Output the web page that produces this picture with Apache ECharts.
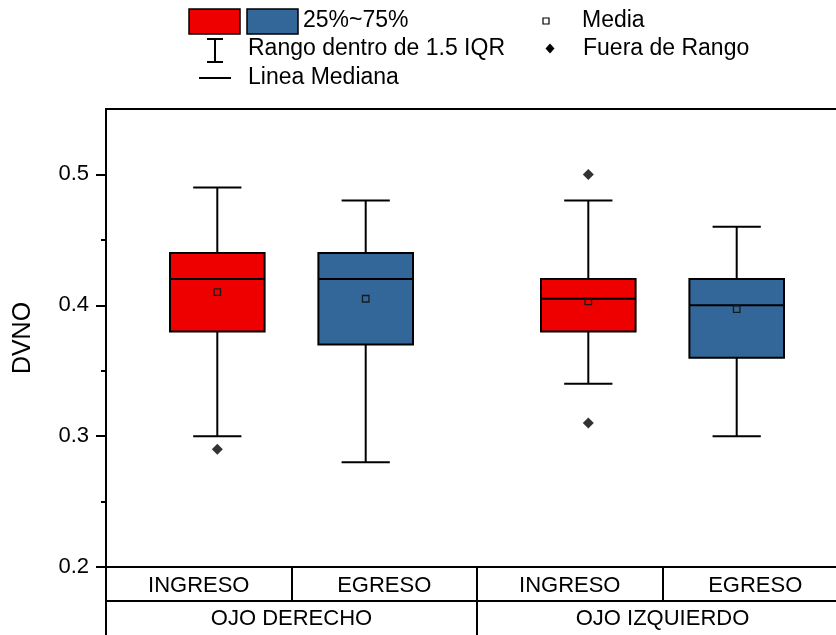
<!DOCTYPE html>
<html>
<head>
<meta charset="utf-8">
<script src="https://cdn.jsdelivr.net/npm/echarts@6/dist/echarts.min.js"></script>
<style>html,body{margin:0;padding:0;background:#fff;}#c{width:836px;height:635px;}</style>
</head>
<body>
<div id="c"></div>
<script>
// ---- data ----
var conditions = ['INGRESO', 'EGRESO', 'INGRESO', 'EGRESO'];
var groups = ['OJO DERECHO', 'OJO IZQUIERDO'];
var positions = [0.6, 1.4, 2.6, 3.4];
var whiskerLow = [0.30, 0.28, 0.34, 0.30];
var q1 = [0.38, 0.37, 0.38, 0.36];
var median = [0.42, 0.42, 0.405, 0.40];
var q3 = [0.44, 0.44, 0.42, 0.42];
var whiskerHigh = [0.49, 0.48, 0.48, 0.46];
var means = [0.410, 0.405, 0.403, 0.397];
var boxColors = ['#EE0000', '#336699', '#EE0000', '#336699'];
var outliers = [[0.6, 0.29], [2.6, 0.50], [2.6, 0.31]];
var yLabelTicks = [0.2, 0.3, 0.4, 0.5];
var yMinorTicks = [0.25, 0.35, 0.45];

var FONT = 'Liberation Sans, Arial, sans-serif';
var boxData = positions.map(function (p, i) {
  return [p, whiskerLow[i], q1[i], median[i], q3[i], whiskerHigh[i], means[i], i];
});

function renderBox(params, api) {
  var x = api.value(0), lo = api.value(1), b1 = api.value(2), md = api.value(3),
      b3 = api.value(4), hi = api.value(5), mn = api.value(6), idx = api.value(7);
  var halfW = 0.255, capW = 0.13;
  var pLo = api.coord([x, lo]), pHi = api.coord([x, hi]);
  var pQ1L = api.coord([x - halfW, b1]), pQ3R = api.coord([x + halfW, b3]);
  var pMedL = api.coord([x - halfW, md]), pMedR = api.coord([x + halfW, md]);
  var pQ1 = api.coord([x, b1]), pQ3 = api.coord([x, b3]);
  var capL = api.coord([x - capW, lo]), capR = api.coord([x + capW, lo]);
  var capHL = api.coord([x - capW, hi]), capHR = api.coord([x + capW, hi]);
  var pMean = api.coord([x, mn]);
  var ls = { stroke: '#000', lineWidth: 2 };
  var ms = 6.5;
  return {
    type: 'group',
    children: [
      { type: 'line', shape: { x1: pLo[0], y1: pLo[1], x2: pQ1[0], y2: pQ1[1] }, style: ls },
      { type: 'line', shape: { x1: pQ3[0], y1: pQ3[1], x2: pHi[0], y2: pHi[1] }, style: ls },
      { type: 'line', shape: { x1: capL[0], y1: capL[1], x2: capR[0], y2: capR[1] }, style: ls },
      { type: 'line', shape: { x1: capHL[0], y1: capHL[1], x2: capHR[0], y2: capHR[1] }, style: ls },
      { type: 'rect', shape: { x: pQ1L[0], y: pQ3R[1], width: pQ3R[0] - pQ1L[0], height: pQ1L[1] - pQ3R[1] },
        style: { fill: boxColors[idx], stroke: '#000', lineWidth: 2 } },
      { type: 'line', shape: { x1: pMedL[0], y1: pMedL[1], x2: pMedR[0], y2: pMedR[1] }, style: ls },
      { type: 'rect', shape: { x: pMean[0] - ms / 2, y: pMean[1] - ms / 2, width: ms, height: ms },
        style: { fill: 'none', stroke: '#1a1a1a', lineWidth: 1.3 } }
    ]
  };
}

var chart = echarts.init(document.getElementById('c'), null, { renderer: 'canvas' });
var legendFont = 'normal 23px ' + FONT;
chart.setOption({
  animation: false,
  textStyle: { fontFamily: FONT, color: '#000' },
  grid: { left: 106, top: 109, width: 742, bottom: 68, outerBoundsMode: 'none', containLabel: false,
    show: true, borderColor: '#000', borderWidth: 2, backgroundColor: 'transparent' },
  xAxis: [
    { type: 'category', data: conditions, position: 'bottom', boundaryGap: true,
      axisLine: { show: true, lineStyle: { color: '#000', width: 2 } },
      axisTick: { show: true, length: 34, interval: 0, alignWithLabel: false, lineStyle: { color: '#000', width: 2 } },
      axisLabel: { interval: 0, fontSize: 22, color: '#000', margin: 8, fontFamily: FONT },
      splitLine: { show: false } },
    { type: 'category', data: groups, position: 'bottom', offset: 34, boundaryGap: true,
      axisLine: { show: true, lineStyle: { color: '#000', width: 2 } },
      axisTick: { show: true, length: 34, interval: 0, alignWithLabel: false, lineStyle: { color: '#000', width: 2 } },
      axisLabel: { interval: 0, fontSize: 22, color: '#000', margin: 7, fontFamily: FONT },
      splitLine: { show: false } },
    { type: 'value', min: 0, max: 4, show: false, splitLine: { show: false } }
  ],
  yAxis: [
    { type: 'value', min: 0.2, max: 0.55, position: 'left',
      name: 'DVNO', nameLocation: 'middle', nameRotate: 90, nameGap: 70,
      nameTextStyle: { fontSize: 25, color: '#000', fontFamily: FONT },
      axisLine: { show: true, lineStyle: { color: '#000', width: 2 } },
      axisTick: { show: true, customValues: yLabelTicks, length: 10, lineStyle: { color: '#000', width: 2 } },
      axisLabel: { customValues: yLabelTicks, fontSize: 22, color: '#000', margin: 17, fontFamily: FONT,
        formatter: function (v) { return v.toFixed(1); } },
      splitLine: { show: false } },
    { type: 'value', min: 0.2, max: 0.55, position: 'left', offset: 0,
      axisLine: { show: false },
      axisTick: { show: true, customValues: yMinorTicks, length: 5, lineStyle: { color: '#000', width: 2 } },
      axisLabel: { show: false },
      splitLine: { show: false } }
  ],
  series: [
    { type: 'custom', xAxisIndex: 2, yAxisIndex: 0, renderItem: renderBox, data: boxData, z: 3 },
    { type: 'scatter', xAxisIndex: 2, yAxisIndex: 0, symbol: 'diamond', symbolSize: 11,
      itemStyle: { color: '#000' }, data: outliers, z: 4 }
  ],
  graphic: [
    { type: 'rect', shape: { x: 189, y: 9, width: 51, height: 25 }, style: { fill: '#EE0000', stroke: '#000', lineWidth: 1.5 } },
    { type: 'rect', shape: { x: 247, y: 9, width: 51, height: 25 }, style: { fill: '#336699', stroke: '#000', lineWidth: 1.5 } },
    { type: 'text', x: 303, y: 21, style: { text: '25%~75%', font: legendFont, fill: '#000', verticalAlign: 'middle' } },
    { type: 'rect', shape: { x: 543, y: 18, width: 6, height: 6 }, style: { fill: '#fff', stroke: '#000', lineWidth: 1.2 } },
    { type: 'text', x: 582, y: 21, style: { text: 'Media', font: legendFont, fill: '#000', verticalAlign: 'middle' } },
    { type: 'line', shape: { x1: 215, y1: 39, x2: 215, y2: 62 }, style: { stroke: '#000', lineWidth: 2 } },
    { type: 'line', shape: { x1: 207, y1: 39, x2: 223, y2: 39 }, style: { stroke: '#000', lineWidth: 2 } },
    { type: 'line', shape: { x1: 207, y1: 62, x2: 223, y2: 62 }, style: { stroke: '#000', lineWidth: 2 } },
    { type: 'text', x: 248, y: 49, style: { text: 'Rango dentro de 1.5 IQR', font: legendFont, fill: '#000', verticalAlign: 'middle' } },
    { type: 'polygon', shape: { points: [[550, 43.5], [554.5, 48.5], [550, 53.5], [545.5, 48.5]] }, style: { fill: '#000' } },
    { type: 'text', x: 583, y: 49, style: { text: 'Fuera de Rango', font: legendFont, fill: '#000', verticalAlign: 'middle' } },
    { type: 'line', shape: { x1: 199, y1: 78, x2: 231, y2: 78 }, style: { stroke: '#000', lineWidth: 2 } },
    { type: 'text', x: 248, y: 78, style: { text: 'Linea Mediana', font: legendFont, fill: '#000', verticalAlign: 'middle' } }
  ]
});
</script>
</body>
</html>
